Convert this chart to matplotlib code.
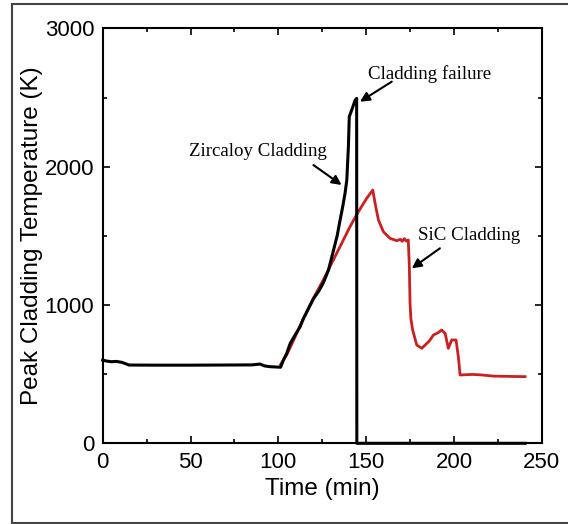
import matplotlib.pyplot as plt
from matplotlib.lines import Line2D
from matplotlib.ticker import MultipleLocator

# Zircaloy cladding (black): peak cladding temperature, K
zr_time = [0, 2, 5, 8, 11, 15, 30, 50, 70, 85, 89.6, 92, 95.3, 101.3,
           102.9, 104.8, 106.7, 108.5, 112.4, 114.2, 116.2, 120, 123,
           125.6, 128.5, 131.3, 133.5, 135.1, 136.5, 138, 139, 139.9,
           140.4, 141.8, 143.7, 144.6, 144.7, 160, 200, 240.5]
zr_temp = [602, 595, 590, 592, 585, 566, 565, 565, 566, 567, 573, 560,
           554, 550, 602, 651, 720, 760, 843, 900, 950, 1045, 1100,
           1160, 1250, 1390, 1500, 1610, 1700, 1808, 1904, 2145, 2362,
           2410, 2480, 2494, 0, 0, 0, 0]

# SiC cladding (red)
sic_time = [101.3, 104.8, 108.5, 112.4, 116.2, 120, 125.6, 129.4, 135.1,
            140.8, 145.6, 150.3, 153.8, 155.1, 157, 159.8, 163.6, 167.4,
            169.5, 170.5, 171.8, 172.8, 174, 174.6, 175, 175.5, 176.5,
            178.8, 181.7, 183.6, 186, 188.3, 191, 193, 195, 196.8, 198.7,
            201.2, 202.5, 203.5, 210.4, 215, 222.4, 230, 240.5]
sic_temp = [570, 640, 740, 850, 950, 1050, 1181, 1277, 1421, 1566, 1675,
            1771, 1831, 1735, 1615, 1530, 1482, 1465, 1475, 1460, 1480,
            1462, 1470, 1277, 1012, 900, 819, 711, 687, 711, 740, 783, 800,
            819, 795, 687, 747, 747, 626, 494, 498, 495, 486, 484, 482]

x_ticks = [0, 50, 100, 150, 200, 250]
y_ticks = [0, 1000, 2000, 3000]

fig = plt.figure(figsize=(5.68, 5.24), dpi=100)
ax = fig.add_axes([0.1808, 0.154, 0.773, 0.7918])

ax.plot(zr_time, zr_temp, color='black', lw=2.2, zorder=3, clip_on=False)
ax.plot(sic_time, sic_temp, color='#cc1f1f', lw=2.0, zorder=2)

ax.set_xlim(0, 250)
ax.set_ylim(0, 3000)
ax.set_xticks(x_ticks)
ax.set_yticks(y_ticks)
ax.xaxis.set_minor_locator(MultipleLocator(25))
ax.yaxis.set_minor_locator(MultipleLocator(500))
ax.tick_params(which='both', direction='in', top=True, right=True,
               labelsize=16, width=1.2, pad=6)
ax.tick_params(which='major', length=5)
ax.tick_params(which='minor', length=3)
for lbl in ax.get_xticklabels() + ax.get_yticklabels():
    lbl.set_fontfamily('Liberation Sans')
for s in ax.spines.values():
    s.set_linewidth(1.5)

ax.set_xlabel('Time (min)', fontsize=17.5, family='Liberation Sans', labelpad=4)
ax.set_ylabel('Peak Cladding Temperature (K)', fontsize=17.5,
              family='Liberation Sans', labelpad=1)

arrow = dict(arrowstyle='-|>', color='black', lw=1.5, mutation_scale=14,
             shrinkA=0, shrinkB=0)
ax.annotate('', xy=(136, 1868), xytext=(120, 2012), arrowprops=arrow)
ax.text(49, 2107, 'Zircaloy Cladding', fontsize=13.6,
        family='Liberation Serif', va='center', ha='left')
ax.annotate('', xy=(146.5, 2470), xytext=(164.6, 2615), arrowprops=arrow)
ax.text(151, 2670, 'Cladding failure', fontsize=13.6,
        family='Liberation Serif', va='center', ha='left')
ax.annotate('', xy=(176, 1265), xytext=(192, 1410), arrowprops=arrow)
ax.text(179.7, 1506, 'SiC Cladding', fontsize=13.6,
        family='Liberation Serif', va='center', ha='left')

# outer frame around the figure
fc = '#444444'
fig.add_artist(Line2D([11.5 / 568, 11.5 / 568], [1 - 4 / 524, 1 - 522.5 / 524],
                      transform=fig.transFigure, color=fc, lw=1.5))
fig.add_artist(Line2D([11.5 / 568, 1], [1 - 4 / 524, 1 - 4 / 524],
                      transform=fig.transFigure, color=fc, lw=1.5))
fig.add_artist(Line2D([11.5 / 568, 1], [1 - 522.5 / 524, 1 - 522.5 / 524],
                      transform=fig.transFigure, color=fc, lw=1.5))

fig.savefig('out.png', dpi=100)
